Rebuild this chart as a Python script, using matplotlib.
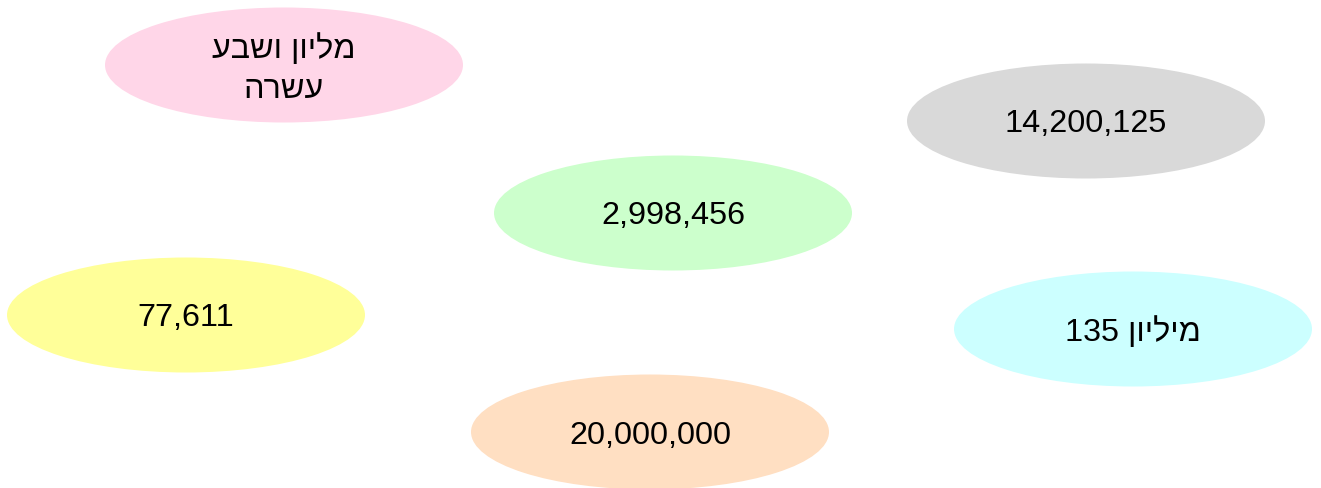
import matplotlib
matplotlib.use("Agg")
import matplotlib.pyplot as plt
from matplotlib.patches import Ellipse

# labels (logical order) and fill colours
labels = ["מליון ושבע\nעשרה", "14,200,125", "2,998,456", "77,611", "מיליון 135", "20,000,000"]
colors = ["#FFD6E8", "#D9D9D9", "#CCFFCC", "#FFFF99", "#CCFFFF", "#FFDFC2"]

# bubble centres in pixels (x, y from top)
centers_x = [284, 1086, 673, 186, 1133, 650]
centers_y = [65, 121, 213, 315, 329, 432]
ell_w, ell_h = 358, 115


def is_hebrew(word):
    return any("\u0590" <= c <= "\u05ff" for c in word)


def visual(text):
    # matplotlib has no bidi support, so lay RTL lines out by hand
    out = []
    for line in text.split("\n"):
        words = line.split(" ")
        if any(is_hebrew(w) for w in words):
            words = [w[::-1] if is_hebrew(w) else w for w in words][::-1]
        out.append(" ".join(words))
    return "\n".join(out)


W, H = 1321, 488
fig = plt.figure(figsize=(W / 100, H / 100), dpi=100)
ax = fig.add_axes([0, 0, 1, 1])
ax.set_xlim(0, W)
ax.set_ylim(H, 0)
ax.axis("off")

for lab, col, cx, cy in zip(labels, colors, centers_x, centers_y):
    ax.add_patch(Ellipse((cx, cy), ell_w, ell_h, facecolor=col, edgecolor="none"))
    if "\n" in lab:
        ax.text(cx, cy + 4, visual(lab), ha="center", va="center", fontsize=23.3,
                family=["Liberation Sans", "DejaVu Sans"], linespacing=1.42, color="black")
    else:
        ax.text(cx, cy, visual(lab), ha="center", va="center_baseline", fontsize=23.3,
                family=["Liberation Sans", "DejaVu Sans"], color="black")

fig.savefig("out.png", dpi=100)
